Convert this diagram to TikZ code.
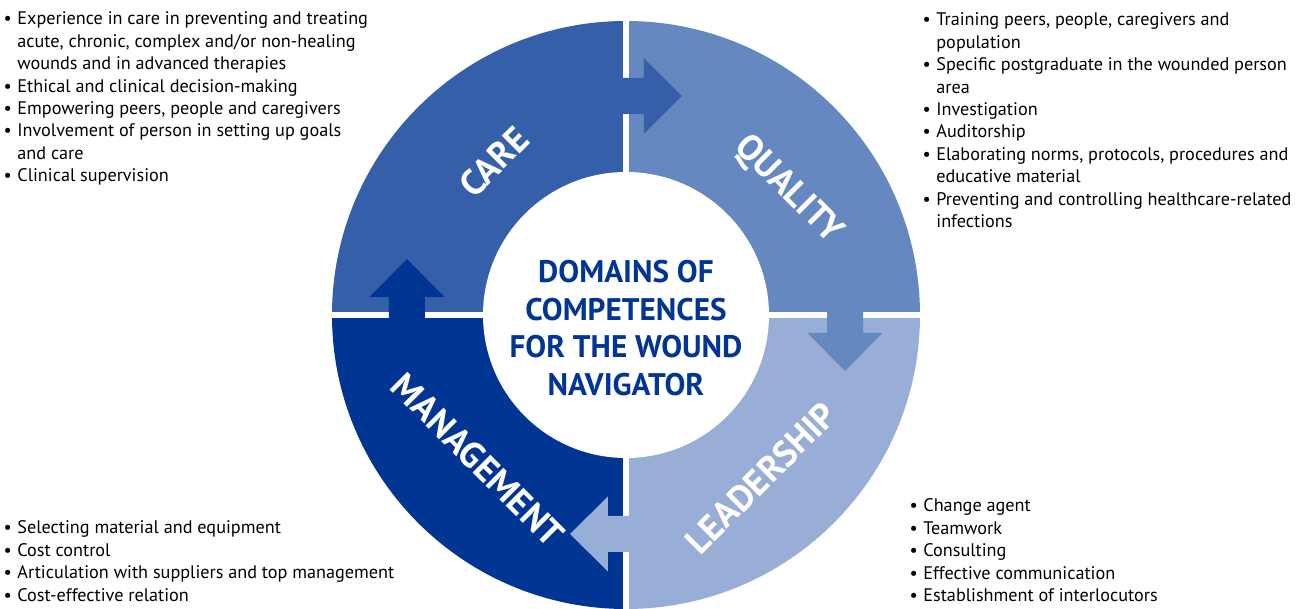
\documentclass[tikz,border=0pt]{standalone}
\usepackage{fontspec}
\setmainfont{PT Sans}
\usetikzlibrary{positioning}

\definecolor{carecol}{HTML}{365FAA}
\definecolor{qualcol}{HTML}{6688C0}
\definecolor{leadcol}{HTML}{99AED6}
\definecolor{mgmtcol}{HTML}{003594}
\newcommand{\bul}{\llap{\textbullet\hspace{0.3em}}}

\begin{document}
\begin{tikzpicture}[x=0.5pt,y=0.5pt,
  seglabel/.style={text=white,font=\fontsize{18}{20}\selectfont\bfseries,inner sep=0pt},
  bullets/.style={anchor=base west,inner sep=0pt,font=\fontsize{9.1}{11.2}\selectfont},
  hub/.style={align=center,text=mgmtcol,font=\fontsize{15.6}{18.75}\selectfont\bfseries}]
  \useasboundingbox (-626,-294) rectangle (676,315);
  \def\R{294} \def\r{143}
  % the four quarters of the ring
  \fill[carecol] (0,0) -- (180:\R) arc (180:90:\R) -- cycle;
  \fill[qualcol] (0,0) -- (90:\R) arc (90:0:\R) -- cycle;
  \fill[leadcol] (0,0) -- (0:\R) arc (0:-90:\R) -- cycle;
  \fill[mgmtcol] (0,0) -- (-90:\R) arc (-90:-180:\R) -- cycle;
  \draw[white,line width=2.9pt] (-\R,0) -- (\R,0) (0,-\R) -- (0,\R);
  \fill[white] (0,0) circle (\r);
  % arrows over the gaps
  \foreach \a/\c in {0/carecol,-90/qualcol,180/leadcol,90/mgmtcol}
    \fill[\c,rotate=\a] (-10,201) -- (18,201) -- (18,181.5) -- (56,219)
      -- (18,256.5) -- (18,237) -- (-10,237) -- cycle;
  \node[seglabel,rotate=45] (care) at (-132,153) {CARE};
  \node[seglabel,rotate=-45] (quality) at (162,125) {QUALITY};
  \node[seglabel,rotate=45] (leadership) at (135,-163) {LEADERSHIP};
  \node[seglabel,rotate=-45] (management) at (-148,-145) {MANAGEMENT};
  \node[hub] (domains) at (0,-13) {DOMAINS OF\\COMPETENCES\\FOR THE WOUND\\NAVIGATOR};
  % lists
  \node[bullets] (carelist) at (-609,290) {\begin{tabular}[t]{@{}l@{}}
    \bul Experience in care in preventing and treating\\
    acute, chronic, complex and/or non-healing\\
    wounds and in advanced therapies\\
    \bul Ethical and clinical decision-making\\
    \bul Empowering peers, people and caregivers\\
    \bul Involvement of person in setting up goals\\
    and care\\
    \bul Clinical supervision
  \end{tabular}};
  \node[bullets] (quallist) at (310,289) {\begin{tabular}[t]{@{}l@{}}
    \bul Training peers, people, caregivers and\\
    population\\
    \bul Specific postgraduate in the wounded person\\
    area\\
    \bul Investigation\\
    \bul Auditorship\\
    \bul Elaborating norms, protocols, procedures and\\
    educative material\\
    \bul Preventing and controlling healthcare-related\\
    infections
  \end{tabular}};
  \node[bullets] (leadlist) at (297,-197) {\begin{tabular}[t]{@{}l@{}}
    \bul Change agent\\
    \bul Teamwork\\
    \bul Consulting\\
    \bul Effective communication\\
    \bul Establishment of interlocutors
  \end{tabular}};
  \node[bullets] (mgmtlist) at (-609,-219) {\begin{tabular}[t]{@{}l@{}}
    \bul Selecting material and equipment\\
    \bul Cost control\\
    \bul Articulation with suppliers and top management\\
    \bul Cost-effective relation
  \end{tabular}};
\end{tikzpicture}
\end{document}
